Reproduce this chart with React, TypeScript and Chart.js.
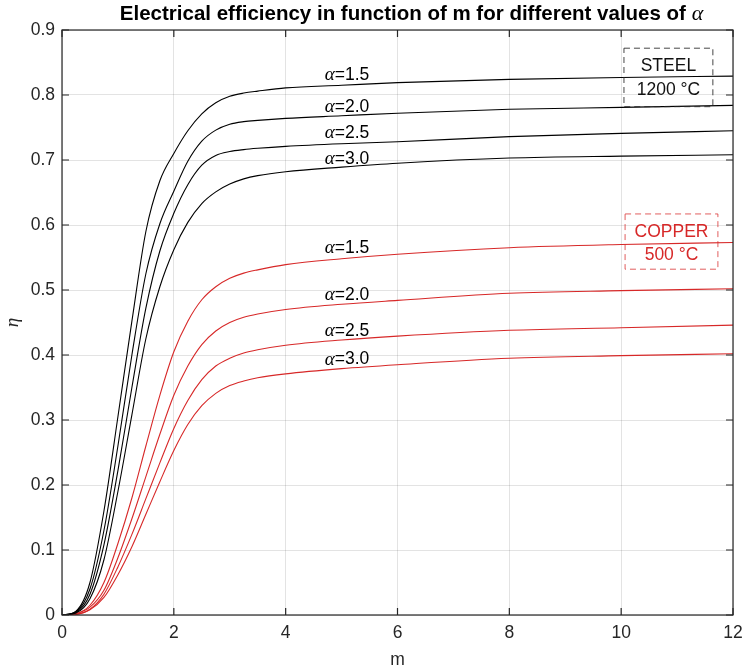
import React, { useEffect, useRef } from 'react';
import { Chart, registerables } from 'chart.js';

Chart.register(...registerables);

// ---- data ----
const M = [0, 0.25, 0.5, 0.75, 1, 1.25, 1.5, 1.75, 2, 2.25, 2.5, 2.75, 3, 3.25, 3.5, 4, 5, 6, 8, 10, 12];

const STEEL_A15 = [0, 0.006, 0.05, 0.16, 0.305, 0.452, 0.59, 0.668, 0.71, 0.745, 0.771, 0.788, 0.798, 0.803, 0.806, 0.811, 0.815, 0.819, 0.824, 0.827, 0.829];
const STEEL_A20 = [0, 0.005, 0.04, 0.13, 0.26, 0.4, 0.525, 0.602, 0.652, 0.698, 0.729, 0.746, 0.755, 0.759, 0.761, 0.764, 0.768, 0.772, 0.778, 0.781, 0.784];
const STEEL_A25 = [0, 0.004, 0.032, 0.108, 0.222, 0.35, 0.472, 0.56, 0.618, 0.662, 0.692, 0.707, 0.713, 0.716, 0.718, 0.721, 0.725, 0.728, 0.736, 0.741, 0.745];
const STEEL_A30 = [0, 0.003, 0.025, 0.085, 0.19, 0.308, 0.425, 0.505, 0.562, 0.604, 0.633, 0.651, 0.663, 0.671, 0.676, 0.682, 0.689, 0.695, 0.703, 0.706, 0.708];

const COPPER_A15 = [0, 0.002, 0.015, 0.05, 0.11, 0.18, 0.26, 0.338, 0.405, 0.452, 0.485, 0.505, 0.518, 0.526, 0.531, 0.539, 0.548, 0.555, 0.565, 0.57, 0.573];
const COPPER_A20 = [0, 0.002, 0.012, 0.038, 0.088, 0.148, 0.213, 0.278, 0.338, 0.383, 0.416, 0.437, 0.45, 0.458, 0.463, 0.47, 0.478, 0.484, 0.495, 0.499, 0.502];
const COPPER_A25 = [0, 0.001, 0.009, 0.032, 0.074, 0.124, 0.179, 0.234, 0.287, 0.33, 0.362, 0.383, 0.395, 0.403, 0.408, 0.415, 0.423, 0.429, 0.438, 0.442, 0.446];
const COPPER_A30 = [0, 0.001, 0.008, 0.027, 0.062, 0.105, 0.155, 0.205, 0.253, 0.293, 0.322, 0.341, 0.353, 0.36, 0.365, 0.371, 0.379, 0.385, 0.395, 0.399, 0.402];

const ALPHA_LABELS = ['1.5', '2.0', '2.5', '3.0'];
const LABEL_M = 4.7;
const STEEL_LABEL_Y = [0.831, 0.782, 0.741, 0.701];
const COPPER_LABEL_Y = [0.564, 0.492, 0.437, 0.393];

const X_TICKS = [0, 2, 4, 6, 8, 10, 12];
const Y_TICKS = [0, 0.1, 0.2, 0.3, 0.4, 0.5, 0.6, 0.7, 0.8, 0.9];

const TITLE_TEXT = 'Electrical efficiency in function of m for different values of ';
const X_TITLE = 'm';
const Y_TITLE = 'η';
const STEEL_BOX = { m0: 10.05, m1: 11.64, y0: 0.872, y1: 0.782, lines: ['STEEL', '1200 °C'], cy: [0.844, 0.808] };
const COPPER_BOX = { m0: 10.07, m1: 11.73, y0: 0.617, y1: 0.532, lines: ['COPPER', '500 °C'], cy: [0.589, 0.553] };

// ---- styles ----
const BLACK = '#000000';
const RED = 'rgb(215,40,40)';
const AXIS = '#262626';
const SANS = '"Liberation Sans", Arial, sans-serif';
const SERIF = '"Liberation Serif", "DejaVu Serif", serif';
const TICK_SIZE = 17.5;

function drawParts(ctx: CanvasRenderingContext2D, parts: { text: string; font: string }[], x: number, y: number, align: 'left' | 'center') {
  let total = 0;
  const widths = parts.map((p) => {
    ctx.font = p.font;
    const w = ctx.measureText(p.text).width;
    total += w;
    return w;
  });
  let cx = align === 'center' ? x - total / 2 : x;
  ctx.textAlign = 'left';
  ctx.textBaseline = 'middle';
  parts.forEach((p, i) => {
    ctx.font = p.font;
    ctx.fillText(p.text, cx, y);
    cx += widths[i];
  });
}

const decorPlugin = {
  id: 'decor',
  afterDraw(chart: any) {
    const ctx: CanvasRenderingContext2D = chart.ctx;
    const a = chart.chartArea;
    const xs = chart.scales.x;
    const ys = chart.scales.y;
    ctx.save();

    // box + inward ticks
    ctx.strokeStyle = AXIS;
    ctx.lineWidth = 1.2;
    ctx.setLineDash([]);
    ctx.strokeRect(a.left, a.top, a.right - a.left, a.bottom - a.top);
    const TL = 7;
    ctx.beginPath();
    X_TICKS.forEach((v) => {
      const px = xs.getPixelForValue(v);
      ctx.moveTo(px, a.bottom);
      ctx.lineTo(px, a.bottom - TL);
      ctx.moveTo(px, a.top);
      ctx.lineTo(px, a.top + TL);
    });
    Y_TICKS.forEach((v) => {
      const py = ys.getPixelForValue(v);
      ctx.moveTo(a.left, py);
      ctx.lineTo(a.left + TL, py);
      ctx.moveTo(a.right, py);
      ctx.lineTo(a.right - TL, py);
    });
    ctx.stroke();

    // curve labels
    const lx = xs.getPixelForValue(LABEL_M);
    ctx.fillStyle = BLACK;
    ALPHA_LABELS.forEach((lab, i) => {
      const parts = [
        { text: 'α', font: `italic 19px ${SERIF}` },
        { text: '=' + lab, font: `${TICK_SIZE}px ${SANS}` },
      ];
      drawParts(ctx, parts, lx, ys.getPixelForValue(STEEL_LABEL_Y[i]), 'left');
      drawParts(ctx, parts, lx, ys.getPixelForValue(COPPER_LABEL_Y[i]), 'left');
    });

    // dashed boxes
    const drawBox = (b: any, stroke: string, textColor: string) => {
      const x0 = xs.getPixelForValue(b.m0);
      const x1 = xs.getPixelForValue(b.m1);
      const y0 = ys.getPixelForValue(b.y0);
      const y1 = ys.getPixelForValue(b.y1);
      ctx.strokeStyle = stroke;
      ctx.lineWidth = 1;
      ctx.setLineDash([6, 4]);
      ctx.strokeRect(x0, y0, x1 - x0, y1 - y0);
      ctx.setLineDash([]);
      ctx.fillStyle = textColor;
      const cx = (x0 + x1) / 2;
      b.lines.forEach((t: string, i: number) => {
        drawParts(ctx, [{ text: t, font: `${TICK_SIZE}px ${SANS}` }], cx, ys.getPixelForValue(b.cy[i]), 'center');
      });
    };
    drawBox(STEEL_BOX, 'rgba(38,38,38,0.85)', '#111111');
    drawBox(COPPER_BOX, 'rgba(215,40,40,0.75)', 'rgb(215,40,40)');

    // title
    ctx.fillStyle = '#000000';
    drawParts(ctx, [
      { text: TITLE_TEXT, font: `bold 20.5px ${SANS}` },
      { text: 'α', font: `italic 22px ${SERIF}` },
    ], (a.left + a.right) / 2 + 14, 14, 'center');

    // axis titles
    ctx.fillStyle = AXIS;
    drawParts(ctx, [{ text: X_TITLE, font: `${TICK_SIZE}px ${SANS}` }], (a.left + a.right) / 2, 660, 'center');
    ctx.save();
    ctx.translate(13, (a.top + a.bottom) / 2);
    ctx.rotate(-Math.PI / 2);
    drawParts(ctx, [{ text: Y_TITLE, font: `italic 19px ${SERIF}` }], 0, 0, 'center');
    ctx.restore();

    ctx.restore();
  },
};

export default function App() {
  const ref = useRef<HTMLCanvasElement | null>(null);
  useEffect(() => {
    document.body.style.margin = '0';
    const mk = (arr: number[], color: string) => ({
      data: M.map((m, i) => ({ x: m, y: arr[i] })),
      borderColor: color,
      borderWidth: 1.1,
      pointRadius: 0,
      fill: false,
      cubicInterpolationMode: 'monotone' as const,
    });
    const chart = new Chart(ref.current as HTMLCanvasElement, {
      type: 'line',
      data: {
        datasets: [
          mk(STEEL_A15, BLACK), mk(STEEL_A20, BLACK), mk(STEEL_A25, BLACK), mk(STEEL_A30, BLACK),
          mk(COPPER_A15, RED), mk(COPPER_A20, RED), mk(COPPER_A25, RED), mk(COPPER_A30, RED),
        ],
      },
      options: {
        animation: false,
        responsive: false,
        layout: { padding: { top: 30, right: 11, left: 0, bottom: 0 } },
        plugins: { legend: { display: false }, tooltip: { enabled: false }, title: { display: false } },
        scales: {
          x: {
            type: 'linear',
            min: 0,
            max: 12,
            afterBuildTicks: (s: any) => { s.ticks = X_TICKS.map((v) => ({ value: v })); },
            afterFit: (s: any) => { s.height = 56; s.paddingLeft = 0; s.paddingRight = 0; },
            ticks: {
              maxRotation: 0,
              autoSkip: false,
              padding: 8,
              color: AXIS,
              font: { family: SANS, size: TICK_SIZE },
              callback: (v: any) => String(v),
            },
            grid: { color: 'rgba(38,38,38,0.13)', lineWidth: 1, drawTicks: false },
            border: { display: false },
          },
          y: {
            type: 'linear',
            min: 0,
            max: 0.9,
            afterBuildTicks: (s: any) => { s.ticks = Y_TICKS.map((v) => ({ value: v })); },
            afterFit: (s: any) => { s.width = 62; s.paddingTop = 0; s.paddingBottom = 0; },
            ticks: {
              autoSkip: false,
              padding: 7,
              color: AXIS,
              font: { family: SANS, size: TICK_SIZE },
              callback: (v: any) => (v === 0 ? '0' : Number(v).toFixed(1)),
            },
            grid: { color: 'rgba(38,38,38,0.13)', lineWidth: 1, drawTicks: false },
            border: { display: false },
          },
        },
      },
      plugins: [decorPlugin],
    } as any);
    return () => chart.destroy();
  }, []);
  return (
    <div style={{ position: 'absolute', left: 0, top: 0, width: 744, height: 671, background: '#fff' }}>
      <canvas ref={ref} width={744} height={671} style={{ width: 744, height: 671, display: 'block' }} />
    </div>
  );
}
